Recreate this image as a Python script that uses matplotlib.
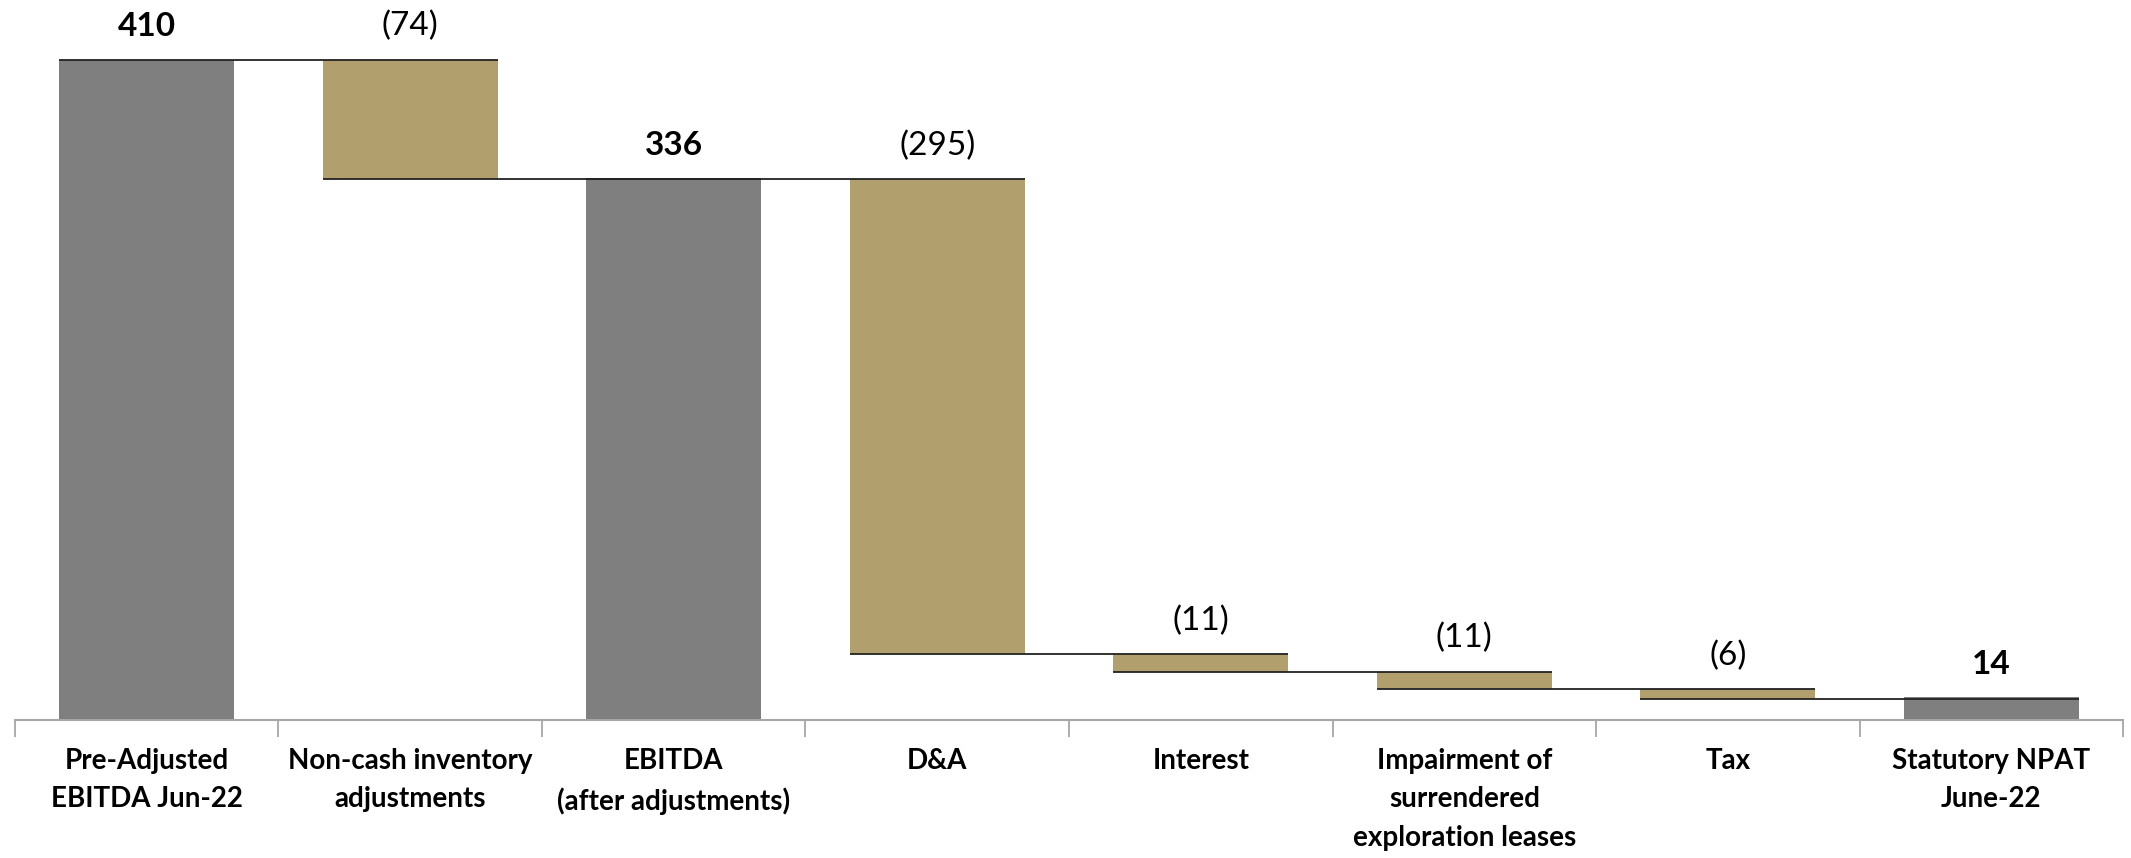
import matplotlib.pyplot as plt

# categories and values (A$m)
categories = ['Pre-Adjusted\nEBITDA Jun-22', 'Non-cash inventory\nadjustments',
              'EBITDA\n(after adjustments)', 'D&A', 'Interest',
              'Impairment of\nsurrendered\nexploration leases', 'Tax',
              'Statutory NPAT\nJune-22']
values = [410, -74, 336, -295, -11, -11, -6, 14]
is_total = [True, False, True, False, False, False, False, True]

grey = '#7F7F7F'
tan = '#B1A06E'
plt.rcParams['font.family'] = ['Lato', 'DejaVu Sans']

fig = plt.figure(figsize=(21.31, 8.58), dpi=100)
ax = fig.add_axes([0.007, 0.1608, 0.9893, 0.8392])

width = 0.665
bottoms, tops = [], []
level = 0
for v, tot in zip(values, is_total):
    if tot:
        bottoms.append(0)
        tops.append(v)
        level = v
    else:
        bottoms.append(level + v)
        tops.append(level)
        level = level + v

x = list(range(len(categories)))
heights = [t - b for b, t in zip(bottoms, tops)]
colors = [grey if t else tan for t in is_total]
ax.bar(x, heights, bottom=bottoms, width=width, color=colors, zorder=2)

# connector lines: from left of bar i to right of bar i+1
for i in range(len(values) - 1):
    lvl = tops[i] if is_total[i] else bottoms[i]
    ax.hlines(lvl, i - width / 2, i + 1 + width / 2, color='#222222', lw=1.3, zorder=3)

# value labels
for i, (v, tot) in enumerate(zip(values, is_total)):
    txt = f'{v}' if tot else f'({abs(v)})'
    ax.annotate(txt, (i, tops[i]), xytext=(0, 24), textcoords='offset points',
                ha='center', va='center', fontsize=24,
                fontweight='bold' if tot else 'normal')

ax.set_xlim(-0.5, len(categories) - 0.5)
ax.set_ylim(0, 447)
ax.set_yticks([])
for s in ['top', 'right', 'left']:
    ax.spines[s].set_visible(False)
ax.spines['bottom'].set_color('#A6A6A6')
ax.spines['bottom'].set_linewidth(1.5)

ax.set_xticks(x)
ax.set_xticklabels(categories, fontsize=20, fontweight='bold', linespacing=1.6)
ax.tick_params(axis='x', which='major', length=0, pad=20)
ax.set_xticks([i - 0.5 for i in range(len(categories) + 1)], minor=True)
ax.tick_params(axis='x', which='minor', length=12, width=1.3, color='#A6A6A6')

fig.savefig('out.png', dpi=100)
